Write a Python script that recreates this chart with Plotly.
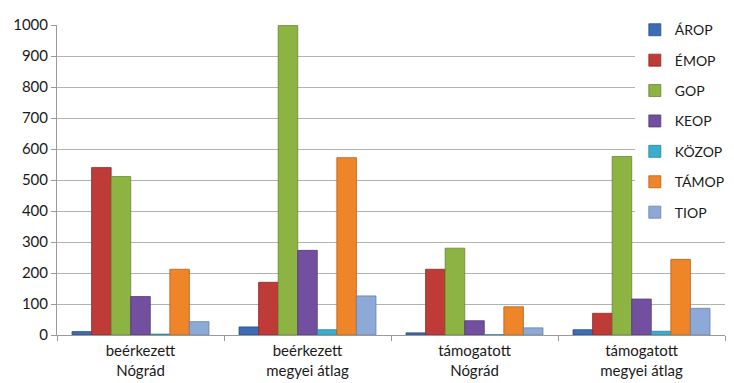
import plotly.graph_objects as go

categories = ["beérkezett<br>Nógrád", "beérkezett<br>megyei átlag", "támogatott<br>Nógrád", "támogatott<br>megyei átlag"]
series_names = ["ÁROP", "ÉMOP", "GOP", "KEOP", "KÖZOP", "TÁMOP", "TIOP"]

arop = [11, 26, 7, 17]
emop = [540, 170, 212, 70]
gop = [511, 998, 280, 576]
keop = [124, 273, 46, 116]
kozop = [3, 17, 1, 12]
tamop = [212, 572, 91, 244]
tiop = [43, 126, 23, 86]

values = [arop, emop, gop, keop, kozop, tamop, tiop]
colors = ["#3C6DB4", "#BE3B37", "#8DB443", "#72509F", "#3AAFCD", "#EE8528", "#8CA9D7"]
edges = ["#2A4F85", "#8E2A27", "#66852E", "#523876", "#2A8199", "#B56218", "#6580AA"]

fig = go.Figure()
for name, vals, c, e in zip(series_names, values, colors, edges):
    fig.add_trace(go.Bar(
        name=name, x=categories, y=vals, legendgroup=name,
        marker=dict(color=c, line=dict(color=e, width=0.8)),
    ))

# page body has an 8px default margin, so the figure is sized to fit the window
fig.update_layout(
    width=726, height=375,
    margin=dict(l=49, r=9, t=17, b=48, autoexpand=False),
    paper_bgcolor="white", plot_bgcolor="white",
    barmode="group", bargap=0.18, bargroupgap=0,
    font=dict(family="Lato", size=15, color="#1a1a1a"),
    showlegend=True,
    legend=dict(
        x=0.865, xanchor="left", y=1.035, yanchor="top",
        bgcolor="white", traceorder="grouped", tracegroupgap=9.2,
        font=dict(family="Lato", size=14, color="#1a1a1a"),
        itemwidth=30, maxheight=330,
    ),
    xaxis=dict(
        automargin=False,
        showline=True, linecolor="#9a9a9a", linewidth=1,
        ticks="outside", ticklen=5, tickcolor="#9a9a9a", tickson="boundaries",
        showgrid=False, tickfont=dict(size=15), ticklabelstandoff=2,
    ),
    yaxis=dict(
        automargin=False,
        range=[0, 1000], dtick=100, tick0=0,
        showline=True, linecolor="#9a9a9a", linewidth=1,
        ticks="outside", ticklen=5, tickcolor="#9a9a9a",
        showgrid=True, gridcolor="#b3b3b3", gridwidth=1,
        zeroline=False, tickfont=dict(size=15),
    ),
)

fig.write_html("out.html")
